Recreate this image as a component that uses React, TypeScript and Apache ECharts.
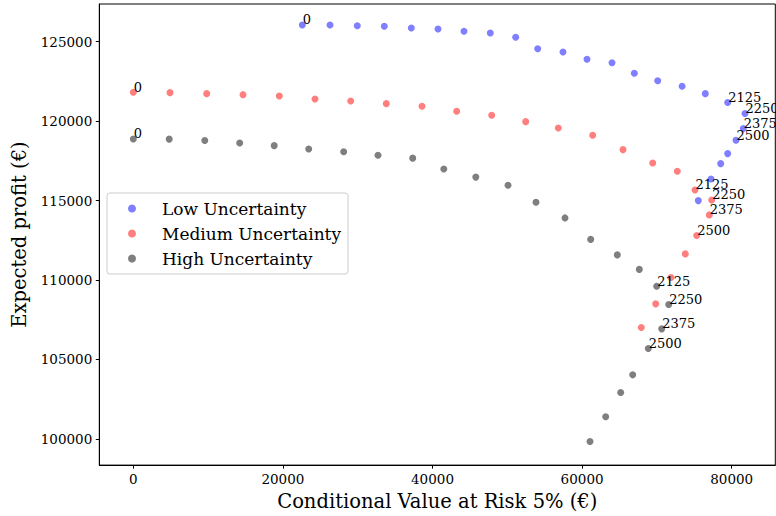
import React, { useEffect, useRef } from "react";
import * as echarts from "echarts";

const lowX = [22594, 26297, 29947, 33556, 37166, 40735, 44211, 47727, 51123, 54064, 57447, 60655, 63997, 66979, 70107, 73369, 76471, 79465, 81778, 81551, 80575, 79465, 78529, 77233, 75535];
const lowY = [126051, 126051, 126007, 125969, 125862, 125799, 125654, 125547, 125277, 124560, 124352, 123893, 123679, 123012, 122546, 122194, 121728, 121174, 120482, 119538, 118796, 117953, 117323, 116360, 114995];

const medX = [0, 4906, 9813, 14666, 19519, 24291, 29064, 33824, 38596, 43235, 47914, 52460, 56818, 61417, 65468, 69439, 72727, 75094, 77326, 77005, 75321, 73797, 71885, 69840, 67914];
const medY = [121816, 121791, 121728, 121665, 121583, 121394, 121269, 121099, 120935, 120620, 120369, 119966, 119570, 119110, 118204, 117367, 116845, 115668, 115039, 114095, 112793, 111641, 110150, 108495, 107004];

const highX = [0, 4799, 9559, 14225, 18837, 23449, 28128, 32714, 37353, 41511, 45789, 50094, 53837, 57714, 61150, 64706, 67647, 69973, 71578, 70642, 68850, 66765, 65160, 63155, 61056];
const highY = [118877, 118865, 118783, 118626, 118456, 118248, 118072, 117852, 117669, 116990, 116474, 115964, 114894, 113906, 112553, 111578, 110666, 109608, 108451, 106921, 105682, 104027, 102913, 101384, 99830];

// point index -> annotation text
const labelIndices = [0, 17, 18, 19, 20];
const labelTexts = ["0", "2125", "2250", "2375", "2500"];

const xTicks = [0, 20000, 40000, 60000, 80000];
const yTicks = [100000, 105000, 110000, 115000, 120000, 125000];

const seriesNames = ["Low Uncertainty", "Medium Uncertainty", "High Uncertainty"];
const seriesColors = ["#7f7fff", "#ff7f7f", "#7f7f7f"];

const FONT = "DejaVu Serif";

function buildData(xs: number[], ys: number[]) {
  return xs.map((x, i) => {
    const li = labelIndices.indexOf(i);
    const item: any = { value: [x, ys[i]] };
    if (li >= 0) {
      item.label = {
        show: true,
        formatter: labelTexts[li],
      };
    }
    return item;
  });
}

export default function App() {
  const ref = useRef<HTMLDivElement>(null);
  useEffect(() => {
    if (!ref.current) return;
    const chart = echarts.init(ref.current, null, { renderer: "svg" });
    const allData = [
      buildData(lowX, lowY),
      buildData(medX, medY),
      buildData(highX, highY),
    ];
    chart.setOption({
      animation: false,
      backgroundColor: "#ffffff",
      textStyle: { fontFamily: FONT },
      grid: {
        left: 99.3,
        top: 4,
        right: 0.7,
        bottom: 50.7,
        show: true,
        borderColor: "#000",
        borderWidth: 1,
        backgroundColor: "transparent",
      },
      legend: {
        orient: "vertical",
        left: 107,
        top: 193,
        padding: [7, 7, 7, 21],
        itemGap: 8,
        itemWidth: 30,
        itemHeight: 8,
        icon: "circle",
        borderColor: "#cccccc",
        borderWidth: 1,
        borderRadius: 3,
        backgroundColor: "#ffffff",
        textStyle: {
          fontFamily: FONT,
          fontSize: 17,
          color: "#000",
          lineHeight: 17,
          padding: [0, 0, 0, 10],
        },
        data: seriesNames,
      },
      xAxis: {
        type: "value",
        min: -4545,
        max: 85830,
        name: "Conditional Value at Risk 5% (€)",
        nameLocation: "middle",
        nameGap: 21,
        nameTextStyle: { fontFamily: FONT, fontSize: 19.5, color: "#000" },
        axisLine: { show: true, onZero: false, lineStyle: { color: "#000", width: 1 } },
        axisTick: { show: true, length: 3.5, customValues: xTicks, lineStyle: { color: "#000" } },
        axisLabel: {
          customValues: xTicks,
          formatter: (v: number) => String(v),
          fontFamily: FONT,
          fontSize: 13.5,
          color: "#000",
          margin: 7,
        },
        splitLine: { show: false },
      },
      yAxis: {
        type: "value",
        min: 98345,
        max: 127372,
        name: "Expected profit (€)",
        nameLocation: "middle",
        nameGap: 68,
        nameRotate: 90,
        nameTextStyle: { fontFamily: FONT, fontSize: 19.5, color: "#000" },
        axisLine: { show: true, onZero: false, lineStyle: { color: "#000", width: 1 } },
        axisTick: { show: true, length: 3.5, customValues: yTicks, lineStyle: { color: "#000" } },
        axisLabel: {
          customValues: yTicks,
          formatter: (v: number) => String(v),
          fontFamily: FONT,
          fontSize: 13.5,
          color: "#000",
          margin: 7,
        },
        splitLine: { show: false },
      },
      series: seriesNames.map((name, k) => ({
        name,
        type: "scatter",
        symbol: "circle",
        symbolSize: 7,
        itemStyle: { color: seriesColors[k], opacity: 1 },
        label: {
          show: false,
          position: [4, 5],
          align: "left",
          verticalAlign: "bottom",
          fontFamily: FONT,
          fontSize: 13,
          color: "#000",
        },
        emphasis: { disabled: true },
        data: allData[k],
      })),
    });
    return () => chart.dispose();
  }, []);
  return (
    <div
      ref={ref}
      style={{ position: "fixed", left: 0, top: 0, width: 776, height: 516 }}
    />
  );
}
